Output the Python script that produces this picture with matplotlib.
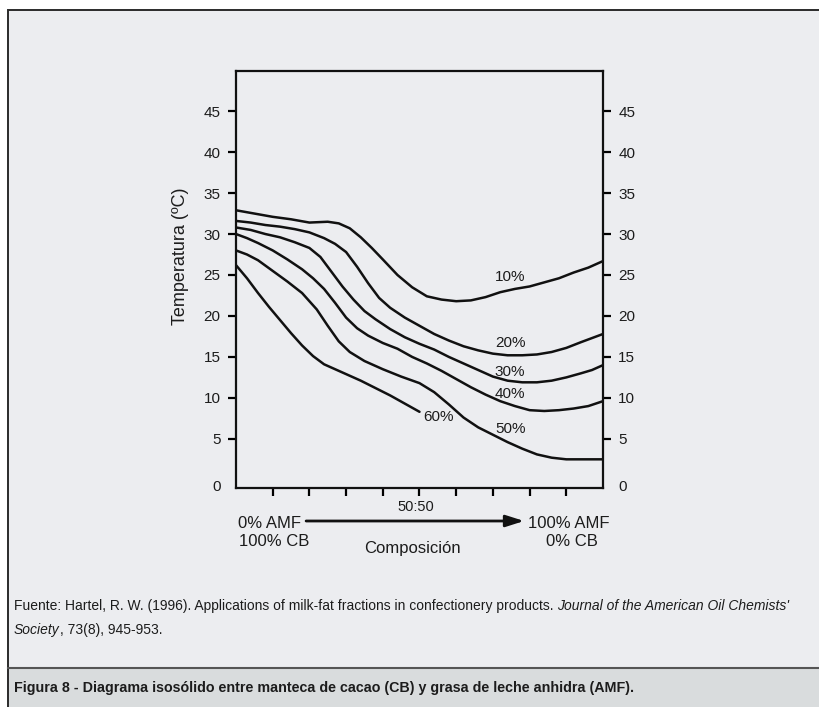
import matplotlib
matplotlib.use('Agg')
import matplotlib.pyplot as plt
from matplotlib.patches import Rectangle
from matplotlib.lines import Line2D

plt.rcParams['font.family'] = ['Liberation Sans', 'DejaVu Sans']

W, H, DPI = 820, 707, 100

# ---------------- data (composition % AMF vs temperature ºC) ----------------
x10 = [0, 5, 10, 15, 20, 25, 28, 31, 34, 37, 40, 44, 48, 52, 56, 60, 64, 68, 72, 76, 80, 84, 88, 92, 96, 100]
y10 = [32.9, 32.5, 32.1, 31.8, 31.4, 31.5, 31.3, 30.7, 29.6, 28.3, 26.9, 25.0, 23.5, 22.4, 22.0, 21.8, 21.9,
       22.3, 22.9, 23.3, 23.6, 24.1, 24.6, 25.3, 25.9, 26.7]

x20 = [0, 4, 8, 12, 16, 20, 24, 27, 30, 33, 36, 39, 42, 46, 50, 54, 58, 62, 66, 70, 74, 78, 82, 86, 90, 94, 97, 100]
y20 = [31.6, 31.4, 31.1, 30.9, 30.6, 30.2, 29.5, 28.8, 27.8, 26.0, 24.0, 22.2, 21.0, 19.8, 18.8, 17.8, 17.0,
       16.3, 15.8, 15.4, 15.2, 15.2, 15.3, 15.6, 16.1, 16.8, 17.3, 17.8]

x30 = [0, 4, 8, 12, 16, 20, 23, 26, 29, 32, 35, 38, 42, 46, 50, 54, 58, 62, 66, 70, 74, 78, 82, 86, 90, 94, 97, 100]
y30 = [30.8, 30.5, 30.0, 29.6, 29.0, 28.3, 27.2, 25.4, 23.6, 22.0, 20.6, 19.6, 18.4, 17.4, 16.6, 15.9, 15.0,
       14.2, 13.4, 12.6, 12.1, 11.9, 11.9, 12.1, 12.5, 13.0, 13.4, 14.0]

x40 = [0, 3, 6, 10, 14, 18, 21, 24, 27, 30, 33, 36, 40, 44, 48, 52, 56, 60, 64, 68, 72, 76, 80, 84, 88, 92, 96, 100]
y40 = [30.0, 29.5, 28.9, 28.0, 26.9, 25.7, 24.6, 23.3, 21.6, 19.8, 18.5, 17.6, 16.7, 16.0, 15.0, 14.2, 13.3,
       12.3, 11.3, 10.4, 9.6, 9.0, 8.5, 8.4, 8.5, 8.7, 9.0, 9.6]

x50 = [0, 3, 6, 10, 14, 18, 22, 25, 28, 31, 35, 40, 45, 50, 54, 58, 62, 66, 70, 74, 78, 82, 86, 90, 94, 97, 100]
y50 = [28.0, 27.5, 26.8, 25.5, 24.2, 22.8, 20.8, 18.8, 16.9, 15.6, 14.5, 13.5, 12.6, 11.8, 10.7, 9.2, 7.6,
       6.4, 5.5, 4.6, 3.8, 3.1, 2.7, 2.5, 2.5, 2.5, 2.5]

x60 = [0, 3, 6, 9, 12, 15, 18, 21, 24, 27, 30, 34, 38, 42, 46, 50]
y60 = [26.2, 24.6, 22.8, 21.1, 19.5, 17.9, 16.4, 15.1, 14.1, 13.5, 12.9, 12.1, 11.2, 10.3, 9.3, 8.3]

series_x = [x10, x20, x30, x40, x50, x60]
series_y = [y10, y20, y30, y40, y50, y60]
series_labels = ['10%', '20%', '30%', '40%', '50%', '60%']

y_ticks = [0, 5, 10, 15, 20, 25, 30, 35, 40, 45]
y_ticklabels = ['0', '5', '10', '15', '20', '25', '30', '35', '40', '45']
x_ticks = [10, 20, 30, 40, 50, 60, 70, 80, 90]

# label anchor positions (data coords)
label_x = [74.7, 74.7, 74.7, 74.7, 74.7, 55.1]
label_y = [24.8, 16.7, 13.2, 10.5, 6.2, 7.7]

# ---------------- figure ----------------
fig = plt.figure(figsize=(W / DPI, H / DPI), dpi=DPI, facecolor='white')

def fx(px):
    return px / W

def fy(py):
    return 1 - py / H

TXT = '#1c1c1c'
# background panel with border
fig.add_artist(Rectangle((fx(8), -0.1), 1.2, fy(10) + 0.1, transform=fig.transFigure,
                         facecolor='#ecedf0', edgecolor='#2a2a2a', linewidth=1.4, zorder=0))
# caption panel
fig.add_artist(Rectangle((fx(8.7), -0.1), 1.2, fy(668) + 0.1, transform=fig.transFigure,
                         facecolor='#d9dcdd', edgecolor='none', zorder=0.5))
fig.add_artist(Line2D([fx(8), 1], [fy(668), fy(668)], transform=fig.transFigure,
                      color='#555555', linewidth=1.5, zorder=0.6))

ax = fig.add_axes([fx(236), fy(488), fx(603) - fx(236), fy(71) - fy(488)])
ax.set_facecolor('#ecedf0')
ax.set_xlim(0, 100)
ax.set_ylim(-1, 49.9)

for xs, ys in zip(series_x, series_y):
    ax.plot(xs, ys, color='#111111', linewidth=1.8, solid_capstyle='round', solid_joinstyle='round')

for lab, lx, ly in zip(series_labels, label_x, label_y):
    ax.text(lx, ly, lab, ha='center', va='center', fontsize=11, color=TXT)

for sp in ax.spines.values():
    sp.set_linewidth(1.6)
    sp.set_color('#111111')

ax.set_yticks(y_ticks)
ax.set_yticklabels(y_ticklabels)
ax.set_xticks(x_ticks)
ax.set_xticklabels([])
ax.tick_params(axis='y', which='major', direction='out', length=6, width=1.6, pad=5,
               labelsize=11, labelcolor=TXT, left=True, right=True, labelleft=True, labelright=True)
ax.tick_params(axis='x', which='major', direction='out', length=6, width=1.6, bottom=True)
# no tick mark at 0, label sits at the bottom corner
t0 = ax.yaxis.get_major_ticks()[0]
t0.tick1line.set_visible(False)
t0.tick2line.set_visible(False)
t0.label1.set_verticalalignment('top')
t0.label2.set_verticalalignment('top')

# axis annotation texts
tr = ax.get_xaxis_transform()

def afy(py):
    return (488 - py) / (488 - 71)

ax.text(49, afy(507), '50:50', transform=tr, ha='center', va='center', fontsize=10.5, color=TXT)
ax.text(0.5, afy(523), '0% AMF', transform=tr, ha='left', va='center', fontsize=12, color=TXT)
ax.text(0.8, afy(542), '100% CB', transform=tr, ha='left', va='center', fontsize=12, color=TXT)
ax.text(101.9, afy(523), '100% AMF', transform=tr, ha='right', va='center', fontsize=12, color=TXT)
ax.text(98.6, afy(542), '0% CB', transform=tr, ha='right', va='center', fontsize=12, color=TXT)
ax.text(48.2, afy(549), 'Composición', transform=tr, ha='center', va='center', fontsize=12, color=TXT)
ax.annotate('', xy=(78.5, afy(521)), xytext=(19.1, afy(521)), xycoords=tr, textcoords=tr,
            arrowprops=dict(arrowstyle='-|>,head_length=1.1,head_width=0.35', color='#111111',
                            linewidth=2.0, shrinkA=0, shrinkB=0), annotation_clip=False)

fig.text(fx(181), fy(256), 'Temperatura (ºC)', rotation=90, ha='center', va='center',
         fontsize=13, color=TXT)

# footer with mixed styles
renderer = fig.canvas.get_renderer()

def draw_runs(x_px, y_px, runs, size, weight='normal'):
    x = x_px
    for s, style in runs:
        t = fig.text(fx(x), fy(y_px), s, fontsize=size, style=style, weight=weight,
                     ha='left', va='center', color=TXT)
        bb = t.get_window_extent(renderer=renderer)
        x += bb.width

draw_runs(14, 606, [('Fuente: Hartel, R. W. (1996). Applications of milk-fat fractions in confectionery products. ', 'normal'),
                    ("Journal of the American Oil Chemists'", 'italic')], 10.0)
draw_runs(14, 630, [('Society', 'italic'), (', 73(8), 945-953.', 'normal')], 10.0)

fig.text(fx(14), fy(688), 'Figura 8 - Diagrama isosólido entre manteca de cacao (CB) y grasa de leche anhidra (AMF).',
         ha='left', va='center', fontsize=10.3, weight='bold', color=TXT)

fig.savefig('out.png', dpi=DPI, facecolor='white')
